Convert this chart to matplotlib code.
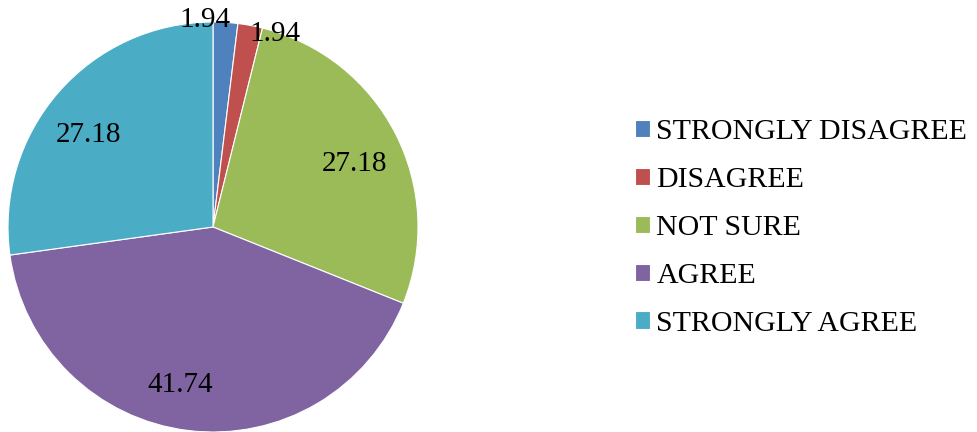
import numpy as np
import matplotlib.pyplot as plt

plt.rcParams['font.family'] = ['Liberation Serif', 'DejaVu Serif']

categories = ['STRONGLY DISAGREE', 'DISAGREE', 'NOT SURE', 'AGREE', 'STRONGLY AGREE']
values = [1.94, 1.94, 27.18, 41.74, 27.18]
colors = ['#4F81BD', '#C0504D', '#9BBB59', '#8064A2', '#4BACC6']

# label placement tweaks (radius fraction, angle nudge in degrees)
label_r = [1.02, 1.0, 0.76, 0.78, 0.76]
label_dang = [5.7, -7.0, -2.5, -5.0, 4.0]

fig = plt.figure(figsize=(9.77, 4.32), dpi=100)
W, H = 977, 432
cx, cy, R = 213, 227, 205
ax = fig.add_axes([(cx - R) / W, (H - cy - R) / H, 2 * R / W, 2 * R / H])

wedges, _ = ax.pie(values, colors=colors, startangle=90, counterclock=False,
                   radius=1, wedgeprops=dict(edgecolor='white', linewidth=0.8))
ax.set_xlim(-1, 1)
ax.set_ylim(-1, 1)
ax.set_aspect('equal')
ax.axis('off')

for w, v, r, da in zip(wedges, values, label_r, label_dang):
    ang = np.deg2rad((w.theta1 + w.theta2) / 2 + da)
    ax.text(r * np.cos(ang), r * np.sin(ang) - 0.01, f'{v:.2f}', ha='center', va='center',
            fontsize=21, clip_on=False)

fig.legend(wedges, categories, loc='center left', bbox_to_anchor=(608 / W, 1 - 228 / H),
           frameon=False, fontsize=21.5, handlelength=0.5, handleheight=0.5,
           handletextpad=0.22, labelspacing=0.73)

fig.savefig('out.png', dpi=100)
